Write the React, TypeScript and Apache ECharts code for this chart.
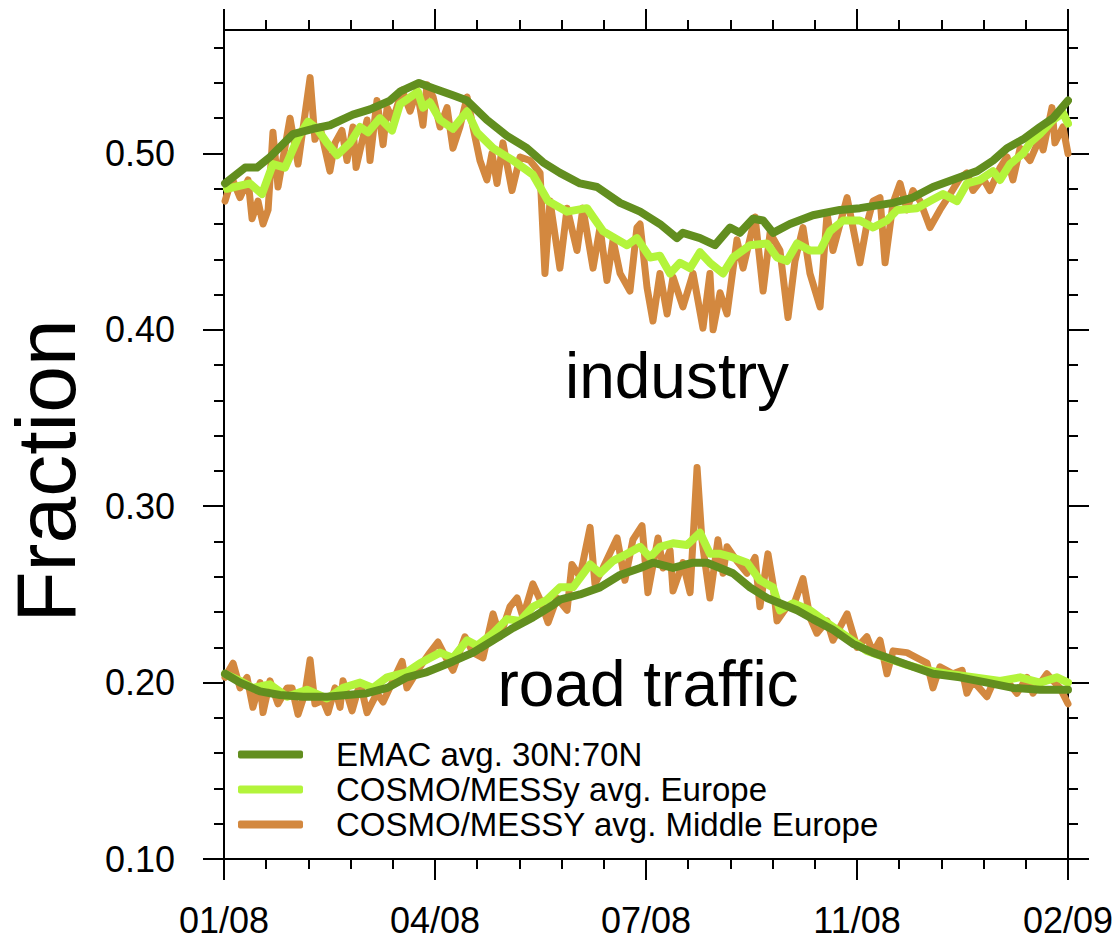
import React, { useEffect, useRef } from "react";
import * as echarts from "echarts";

// x: position on the time axis (0 = 01/08 … 4 = 02/09), y: fraction
const xLabels = ["01/08", "04/08", "07/08", "11/08", "02/09"];
const yTickValues = [0.1, 0.2, 0.3, 0.4, 0.5];

const industryEmac: number[][] = [
  [0.005, 0.483], [0.1, 0.492], [0.156, 0.492], [0.218, 0.498], [0.327, 0.511], [0.422, 0.514],
  [0.502, 0.516], [0.611, 0.522], [0.692, 0.525], [0.787, 0.53], [0.834, 0.535], [0.924, 0.54],
  [0.991, 0.537], [1.085, 0.533], [1.152, 0.53], [1.246, 0.519], [1.341, 0.51], [1.436, 0.503],
  [1.512, 0.495], [1.592, 0.489], [1.687, 0.483], [1.768, 0.481], [1.877, 0.472], [1.972, 0.467],
  [2.066, 0.46], [2.147, 0.452], [2.175, 0.455], [2.256, 0.452], [2.327, 0.448], [2.398, 0.458],
  [2.445, 0.455], [2.507, 0.463], [2.555, 0.462], [2.602, 0.455], [2.682, 0.46], [2.791, 0.465],
  [2.919, 0.468], [3.014, 0.469], [3.171, 0.472], [3.265, 0.475], [3.36, 0.481], [3.474, 0.486],
  [3.569, 0.49], [3.645, 0.496], [3.711, 0.503], [3.787, 0.508], [3.867, 0.515], [3.929, 0.52],
  [4.0, 0.53],
];

const industryEurope: number[][] = [
  [0.014, 0.48], [0.123, 0.483], [0.18, 0.477], [0.232, 0.494], [0.289, 0.492], [0.351, 0.509],
  [0.398, 0.518], [0.441, 0.514], [0.488, 0.506], [0.536, 0.499], [0.597, 0.506], [0.645, 0.515],
  [0.682, 0.512], [0.739, 0.52], [0.796, 0.513], [0.834, 0.528], [0.872, 0.531], [0.919, 0.535],
  [0.943, 0.526], [0.976, 0.529], [1.024, 0.519], [1.085, 0.514], [1.152, 0.524], [1.199, 0.512],
  [1.275, 0.503], [1.37, 0.496], [1.464, 0.488], [1.536, 0.473], [1.626, 0.467], [1.72, 0.469],
  [1.796, 0.456], [1.91, 0.448], [1.957, 0.452], [2.019, 0.441], [2.066, 0.442], [2.114, 0.432],
  [2.161, 0.438], [2.209, 0.435], [2.256, 0.444], [2.303, 0.438], [2.365, 0.432], [2.412, 0.441],
  [2.493, 0.448], [2.573, 0.449], [2.621, 0.441], [2.668, 0.439], [2.716, 0.449], [2.777, 0.445],
  [2.825, 0.445], [2.872, 0.456], [2.934, 0.462], [3.014, 0.462], [3.076, 0.458], [3.142, 0.462],
  [3.19, 0.468], [3.284, 0.469], [3.346, 0.473], [3.408, 0.477], [3.474, 0.473], [3.521, 0.483],
  [3.583, 0.485], [3.645, 0.49], [3.678, 0.485], [3.725, 0.494], [3.787, 0.5], [3.82, 0.506],
  [3.867, 0.511], [3.929, 0.519], [3.976, 0.523], [4.0, 0.517],
];

const industryMidEurope: number[][] = [
  [0.005, 0.473], [0.038, 0.486], [0.076, 0.475], [0.114, 0.485], [0.133, 0.463], [0.161, 0.473],
  [0.185, 0.46], [0.209, 0.468], [0.232, 0.512], [0.256, 0.481], [0.313, 0.52], [0.351, 0.494],
  [0.408, 0.543], [0.431, 0.508], [0.455, 0.515], [0.502, 0.49], [0.526, 0.506], [0.559, 0.513],
  [0.583, 0.496], [0.611, 0.515], [0.626, 0.492], [0.678, 0.519], [0.692, 0.496], [0.725, 0.53],
  [0.754, 0.505], [0.773, 0.526], [0.801, 0.519], [0.844, 0.536], [0.882, 0.524], [0.915, 0.536],
  [0.943, 0.516], [0.962, 0.539], [0.991, 0.532], [1.024, 0.515], [1.057, 0.526], [1.085, 0.503],
  [1.118, 0.515], [1.152, 0.532], [1.18, 0.515], [1.213, 0.496], [1.246, 0.485], [1.27, 0.5],
  [1.294, 0.483], [1.322, 0.506], [1.365, 0.479], [1.403, 0.498], [1.45, 0.496], [1.498, 0.489],
  [1.521, 0.432], [1.545, 0.473], [1.592, 0.435], [1.626, 0.469], [1.673, 0.445], [1.701, 0.469],
  [1.749, 0.435], [1.782, 0.458], [1.815, 0.428], [1.844, 0.451], [1.877, 0.432], [1.924, 0.422],
  [1.957, 0.458], [1.972, 0.46], [2.005, 0.424], [2.033, 0.405], [2.066, 0.432], [2.1, 0.409],
  [2.128, 0.43], [2.175, 0.413], [2.223, 0.432], [2.27, 0.401], [2.303, 0.432], [2.318, 0.4],
  [2.351, 0.421], [2.384, 0.409], [2.431, 0.451], [2.46, 0.435], [2.517, 0.464], [2.555, 0.422],
  [2.588, 0.455], [2.635, 0.445], [2.673, 0.407], [2.706, 0.439], [2.744, 0.458], [2.777, 0.432],
  [2.825, 0.413], [2.858, 0.466], [2.886, 0.445], [2.953, 0.475], [2.981, 0.458], [3.014, 0.438],
  [3.047, 0.46], [3.076, 0.473], [3.109, 0.475], [3.133, 0.438], [3.171, 0.472], [3.204, 0.483],
  [3.237, 0.468], [3.265, 0.479], [3.299, 0.473], [3.346, 0.458], [3.393, 0.468], [3.441, 0.477],
  [3.488, 0.486], [3.521, 0.489], [3.55, 0.479], [3.597, 0.486], [3.63, 0.479], [3.678, 0.492],
  [3.711, 0.498], [3.739, 0.485], [3.773, 0.503], [3.82, 0.496], [3.867, 0.509], [3.882, 0.502],
  [3.924, 0.526], [3.938, 0.506], [3.976, 0.515], [4.0, 0.5],
];

const roadEmac: number[][] = [
  [0.005, 0.205], [0.076, 0.2], [0.171, 0.195], [0.265, 0.193], [0.374, 0.192], [0.488, 0.192],
  [0.583, 0.193], [0.678, 0.194], [0.773, 0.197], [0.867, 0.203], [0.962, 0.206], [1.085, 0.212],
  [1.18, 0.217], [1.275, 0.224], [1.37, 0.231], [1.464, 0.237], [1.559, 0.244], [1.592, 0.247],
  [1.687, 0.25], [1.782, 0.254], [1.877, 0.261], [1.972, 0.265], [2.033, 0.268], [2.128, 0.265],
  [2.223, 0.268], [2.289, 0.268], [2.351, 0.265], [2.412, 0.262], [2.493, 0.254], [2.573, 0.248],
  [2.635, 0.245], [2.716, 0.241], [2.791, 0.236], [2.886, 0.23], [2.981, 0.222], [3.076, 0.217],
  [3.171, 0.213], [3.265, 0.209], [3.36, 0.205], [3.488, 0.203], [3.616, 0.2], [3.739, 0.197],
  [3.867, 0.196], [4.0, 0.196],
];

const roadEurope: number[][] = [
  [0.005, 0.205], [0.076, 0.201], [0.137, 0.197], [0.218, 0.199], [0.299, 0.192], [0.393, 0.196],
  [0.488, 0.191], [0.564, 0.197], [0.645, 0.2], [0.706, 0.197], [0.773, 0.203], [0.867, 0.206],
  [0.929, 0.211], [1.024, 0.217], [1.085, 0.214], [1.152, 0.224], [1.199, 0.221], [1.275, 0.228],
  [1.341, 0.236], [1.403, 0.235], [1.464, 0.243], [1.531, 0.247], [1.592, 0.254], [1.654, 0.254],
  [1.735, 0.267], [1.782, 0.262], [1.844, 0.269], [1.91, 0.273], [1.972, 0.277], [2.019, 0.271],
  [2.066, 0.277], [2.128, 0.279], [2.194, 0.278], [2.256, 0.285], [2.303, 0.273], [2.351, 0.273],
  [2.412, 0.271], [2.479, 0.268], [2.54, 0.258], [2.602, 0.254], [2.635, 0.241], [2.697, 0.245],
  [2.777, 0.241], [2.858, 0.234], [2.953, 0.226], [3.047, 0.218], [3.142, 0.214], [3.237, 0.21],
  [3.332, 0.207], [3.427, 0.205], [3.55, 0.203], [3.678, 0.201], [3.773, 0.203], [3.867, 0.2],
  [3.948, 0.203], [4.0, 0.2],
];

const roadMidEurope: number[][] = [
  [0.005, 0.203], [0.043, 0.211], [0.076, 0.197], [0.109, 0.203], [0.137, 0.186], [0.171, 0.2],
  [0.185, 0.183], [0.218, 0.201], [0.256, 0.188], [0.299, 0.197], [0.322, 0.197], [0.351, 0.182],
  [0.384, 0.194], [0.408, 0.213], [0.431, 0.188], [0.469, 0.19], [0.493, 0.183], [0.526, 0.197],
  [0.55, 0.186], [0.564, 0.201], [0.607, 0.184], [0.645, 0.2], [0.678, 0.183], [0.725, 0.194],
  [0.754, 0.189], [0.801, 0.201], [0.844, 0.212], [0.867, 0.197], [0.929, 0.209], [0.976, 0.217],
  [1.014, 0.223], [1.057, 0.213], [1.085, 0.207], [1.142, 0.226], [1.18, 0.217], [1.227, 0.214],
  [1.275, 0.239], [1.308, 0.226], [1.355, 0.243], [1.389, 0.248], [1.417, 0.237], [1.464, 0.256],
  [1.498, 0.247], [1.536, 0.234], [1.578, 0.248], [1.626, 0.241], [1.649, 0.267], [1.687, 0.26],
  [1.735, 0.288], [1.758, 0.256], [1.796, 0.265], [1.863, 0.282], [1.9, 0.258], [1.938, 0.281],
  [1.981, 0.289], [2.009, 0.251], [2.057, 0.282], [2.081, 0.265], [2.114, 0.275], [2.128, 0.252],
  [2.175, 0.268], [2.209, 0.251], [2.242, 0.322], [2.265, 0.281], [2.303, 0.248], [2.341, 0.281],
  [2.365, 0.262], [2.384, 0.277], [2.431, 0.269], [2.479, 0.262], [2.517, 0.271], [2.54, 0.243],
  [2.578, 0.273], [2.602, 0.256], [2.621, 0.235], [2.668, 0.243], [2.697, 0.243], [2.744, 0.259],
  [2.777, 0.237], [2.81, 0.228], [2.858, 0.235], [2.886, 0.224], [2.953, 0.239], [3.0, 0.22],
  [3.047, 0.226], [3.076, 0.217], [3.109, 0.224], [3.142, 0.205], [3.171, 0.218], [3.237, 0.217],
  [3.284, 0.214], [3.332, 0.211], [3.36, 0.197], [3.393, 0.209], [3.455, 0.205], [3.498, 0.207],
  [3.521, 0.194], [3.55, 0.201], [3.616, 0.192], [3.645, 0.2], [3.711, 0.201], [3.758, 0.194],
  [3.806, 0.203], [3.834, 0.194], [3.9, 0.205], [3.929, 0.201], [3.962, 0.197], [4.0, 0.188],
];

const NAME_EMAC = "EMAC avg. 30N:70N";
const NAME_EU = "COSMO/MESSy avg. Europe";
const NAME_MID = "COSMO/MESSY avg. Middle Europe";

const C_EMAC = "#628e1f";
const C_EU = "#b3f43b";
const C_MID = "#d3883f";

const FONT = "'Liberation Sans', Arial, Helvetica, sans-serif";

export default function App() {
  const ref = useRef<HTMLDivElement>(null);

  useEffect(() => {
    document.body.style.margin = "0";
    if (!ref.current) return;
    const chart = echarts.init(ref.current, undefined, { renderer: "svg" });

    const axisLine = { show: true, onZero: false, lineStyle: { color: "#000", width: 2 } };
    const axisTick = { show: true, inside: false, length: 21, lineStyle: { color: "#000", width: 2 } };
    const minorTick = { show: true, splitNumber: 5, length: 10, lineStyle: { color: "#000", width: 2 } };

    const xCommon = {
      type: "value" as const,
      min: 0,
      max: 4,
      interval: 1,
      axisLine,
      axisTick,
      minorTick,
      splitLine: { show: false },
      minorSplitLine: { show: false },
    };
    const yCommon = {
      type: "value" as const,
      min: 0.1,
      max: 0.57,
      interval: 0.1,
      axisLine,
      axisTick: { ...axisTick, customValues: yTickValues },
      minorTick,
      splitLine: { show: false },
      minorSplitLine: { show: false },
    };

    const line = (name: string, data: number[][], color: string, width: number) => ({
      type: "line" as const,
      name,
      data,
      showSymbol: false,
      symbol: "none",
      color,
      lineStyle: { color, width, cap: "round", join: "round" },
      emphasis: { disabled: true },
    });

    chart.setOption({
      animation: false,
      backgroundColor: "#fff",
      grid: { left: 224, right: 51, top: 30, bottom: 82, containLabel: false },
      xAxis: [
        {
          ...xCommon,
          position: "bottom",
          axisLabel: {
            show: true,
            margin: 43,
            color: "#000",
            fontSize: 36,
            fontFamily: FONT,
            formatter: (v: number) => xLabels[Math.round(v)] ?? "",
          },
        },
        { ...xCommon, position: "top", axisLabel: { show: false } },
      ],
      yAxis: [
        {
          ...yCommon,
          position: "left",
          axisLabel: {
            show: true,
            customValues: yTickValues,
            margin: 49,
            color: "#000",
            fontSize: 36,
            fontFamily: FONT,
            formatter: (v: number) => v.toFixed(2),
          },
        },
        { ...yCommon, position: "right", axisLabel: { show: false } },
      ],
      legend: {
        show: true,
        orient: "vertical",
        left: 233,
        top: 733,
        itemWidth: 65,
        itemHeight: 8,
        itemGap: 2,
        icon: "roundRect",
        selectedMode: false,
        data: [NAME_EMAC, NAME_EU, NAME_MID],
        textStyle: { color: "#000", fontSize: 33, fontFamily: FONT, padding: [0, 0, 0, 28] },
      },
      graphic: [
        {
          type: "text",
          x: 46,
          y: 471,
          rotation: Math.PI / 2,
          style: {
            text: "Fraction",
            fontSize: 84,
            fontFamily: FONT,
            fill: "#000",
            textAlign: "center",
            textVerticalAlign: "middle",
          },
        },
        {
          type: "text",
          x: 677,
          y: 376,
          style: {
            text: "industry",
            fontSize: 64,
            fontFamily: FONT,
            fill: "#000",
            textAlign: "center",
            textVerticalAlign: "middle",
          },
        },
        {
          type: "text",
          x: 648,
          y: 684,
          style: {
            text: "road traffic",
            fontSize: 64,
            fontFamily: FONT,
            fill: "#000",
            textAlign: "center",
            textVerticalAlign: "middle",
          },
        },
      ],
      series: [
        line(NAME_MID, industryMidEurope, C_MID, 7),
        line(NAME_MID, roadMidEurope, C_MID, 7),
        line(NAME_EU, industryEurope, C_EU, 8),
        line(NAME_EU, roadEurope, C_EU, 8),
        line(NAME_EMAC, industryEmac, C_EMAC, 8),
        line(NAME_EMAC, roadEmac, C_EMAC, 8),
      ],
    });

    return () => chart.dispose();
  }, []);

  return <div ref={ref} style={{ width: 1119, height: 941 }} />;
}
